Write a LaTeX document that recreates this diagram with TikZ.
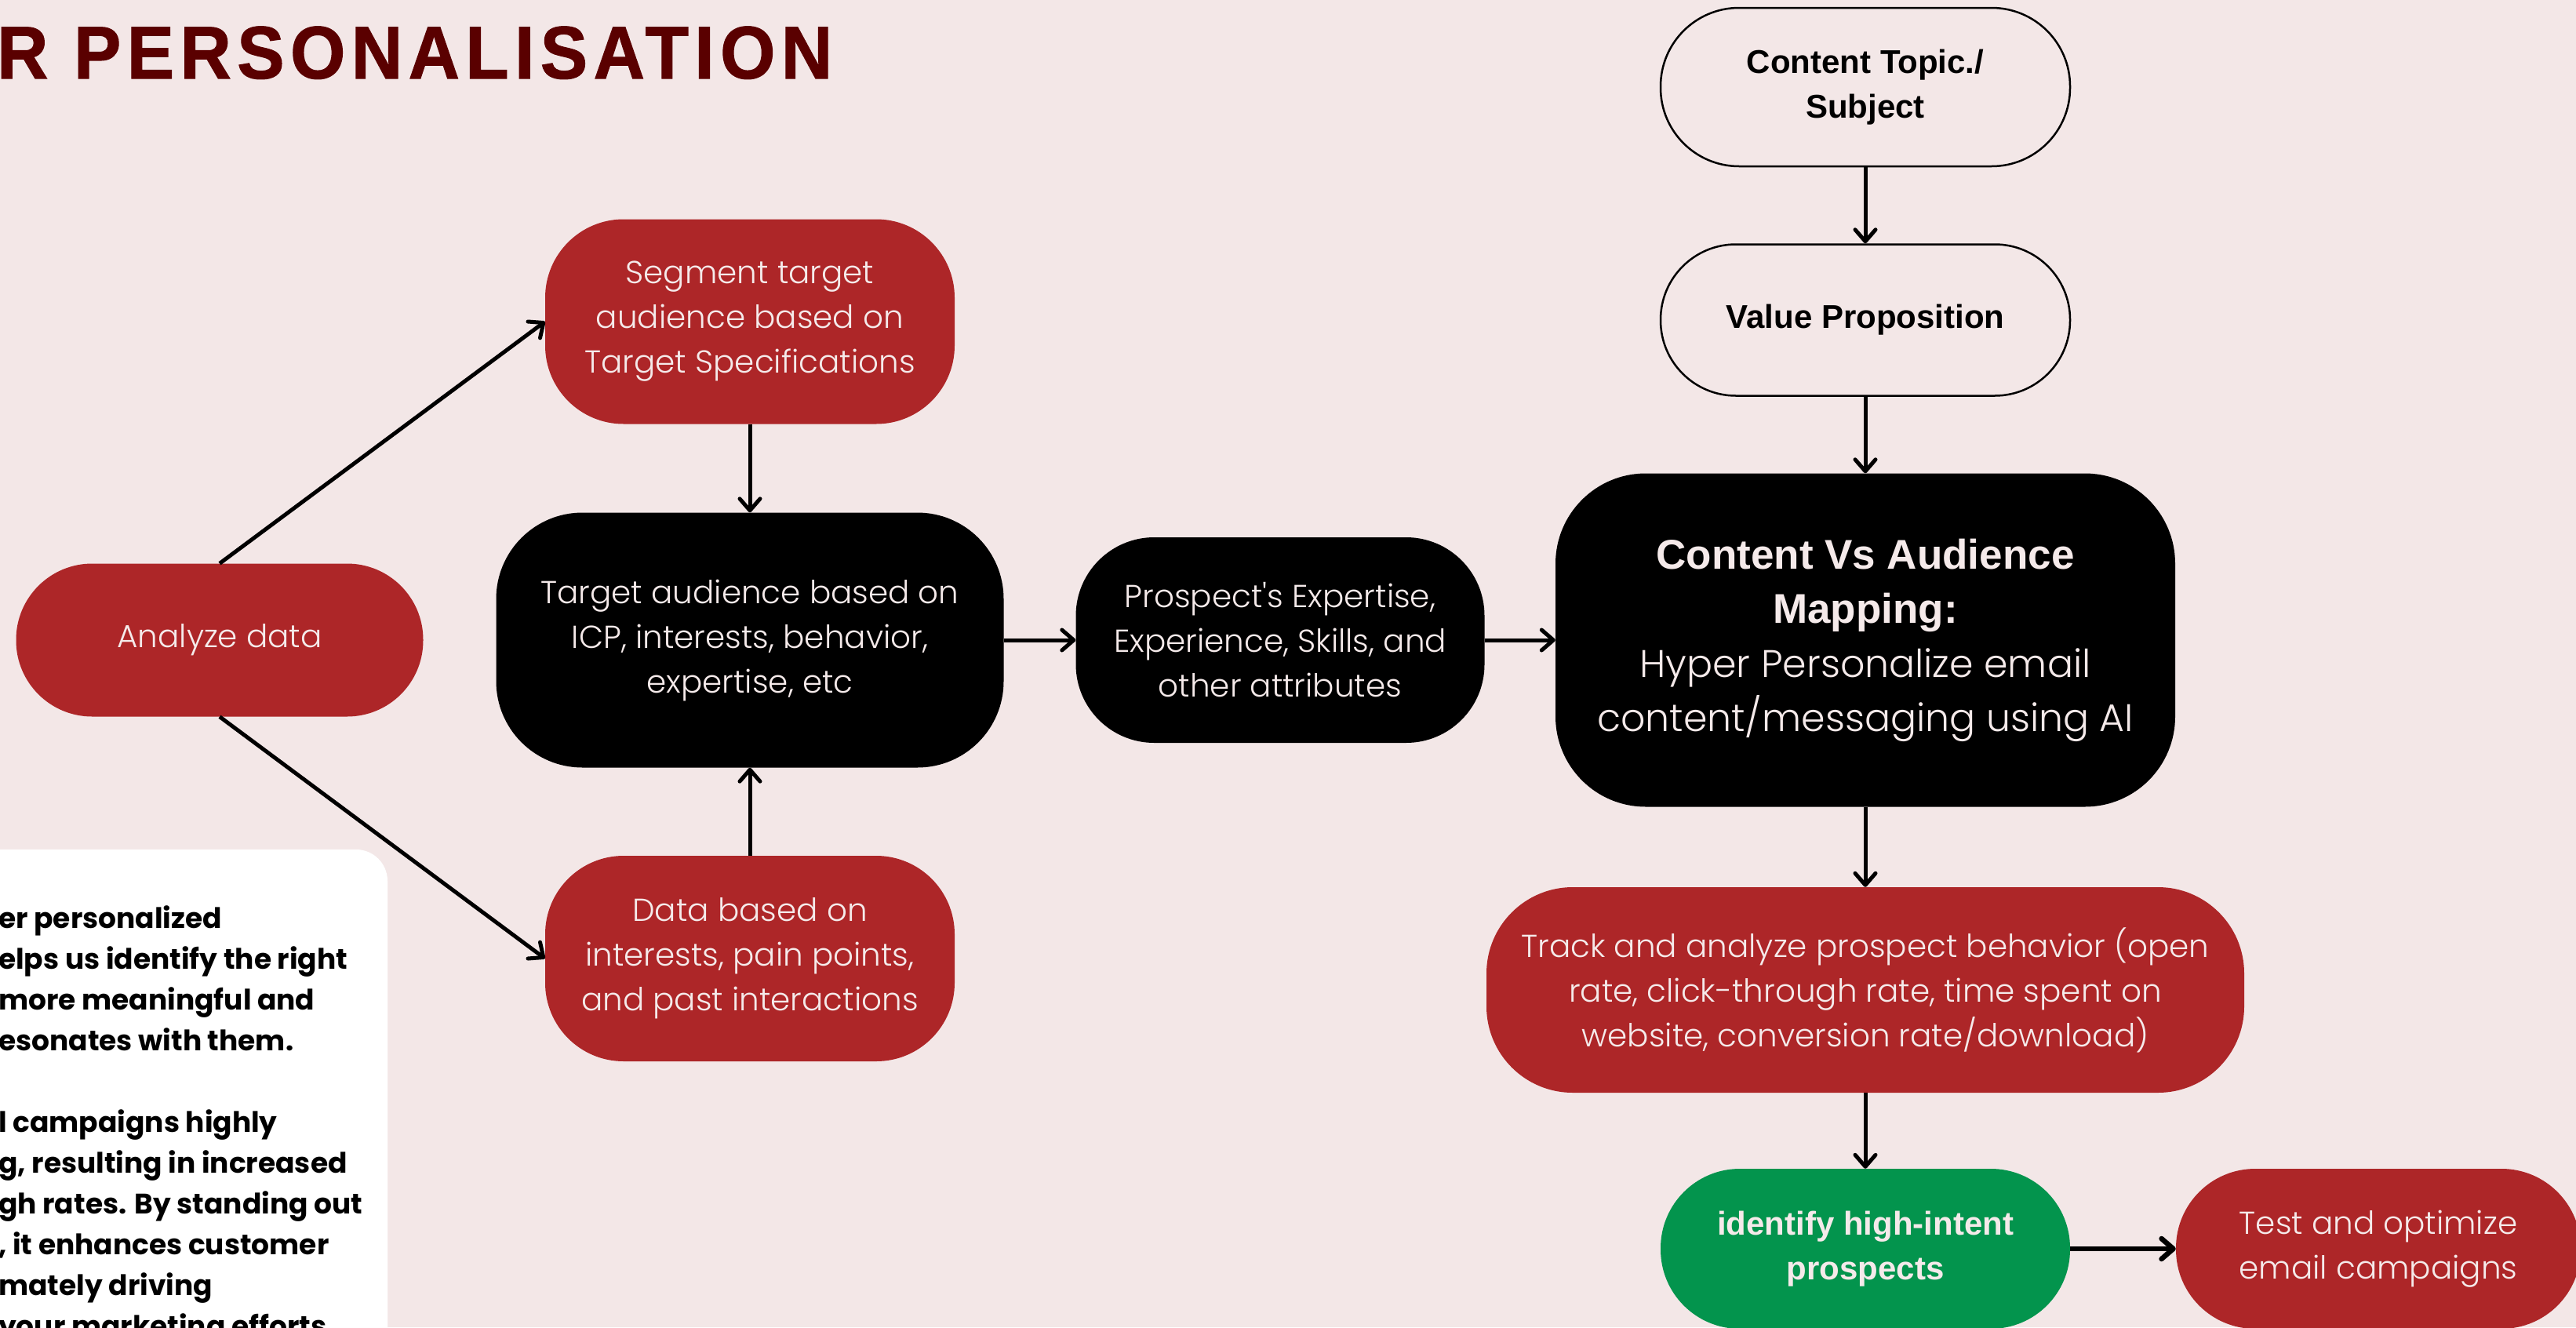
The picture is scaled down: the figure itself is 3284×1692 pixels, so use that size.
\documentclass[tikz,border=0pt]{standalone}
\usepackage{fontspec}
\setmainfont{Poppins}
\newfontfamily\lightf{Poppins Light}
\newfontfamily\boldf{Liberation Sans}
\newfontfamily\titlef[FakeStretch=0.95,LetterSpace=8,FakeBold=1.2]{Liberation Sans}
\usetikzlibrary{arrows.meta}
\definecolor{bg}{HTML}{F3E7E7}
\definecolor{cred}{HTML}{AD2628}
\definecolor{cgreen}{HTML}{03944D}
\definecolor{ctitle}{HTML}{5A0000}
\definecolor{ctext}{HTML}{F5EAEA}
\begin{document}
\begin{tikzpicture}[x=1pt,y=-1pt,
  box/.style={rectangle, inner sep=0pt, align=center, text=ctext},
  regtext/.style={font=\lightf\fontsize{40.5pt}{57pt}\selectfont},
  boldtext/.style={font=\boldf\bfseries\fontsize{42pt}{57pt}\selectfont},
  redbox/.style={box, fill=cred},
  blackbox/.style={box, fill=black},
  outbox/.style={box, draw=black, line width=2.5pt, text=black},
  greenbox/.style={box, fill=cgreen},
  arr/.style={draw=black, line width=5pt, -{Straight Barb[length=15pt,width=26pt,round]}},
  para/.style={anchor=base west, inner sep=0pt, text=black, font=\bfseries\fontsize{36pt}{52pt}\selectfont}
]
\useasboundingbox (0,0) rectangle (3284,1692);
\fill[bg] (0,0) rectangle (3284,1692);
\clip (0,0) rectangle (3284,1692);

% title
\node[anchor=base west, inner sep=0pt, text=ctitle, font=\titlef\bfseries\fontsize{95pt}{95pt}\selectfont] (title) at (-4,100) {R PERSONALISATION};

% white text panel
\fill[white, rounded corners=40pt] (-80,1083) rectangle (494,1800);
\node[para] (p1) at (-2,1183) {er personalized};
\node[para] (p2) at (-2,1235) {elps us identify the right};
\node[para] (p3) at (-2,1287) {more meaningful and};
\node[para] (p4) at (-2,1339) {esonates with them.};
\node[para] (p5) at (-2,1443) {l campaigns highly};
\node[para] (p6) at (-2,1495) {g, resulting in increased};
\node[para] (p7) at (-2,1547) {gh rates. By standing out};
\node[para] (p8) at (-2,1599) {, it enhances customer};
\node[para] (p9) at (-2,1651) {mately driving};
\node[para] (p10) at (-2,1703) {your marketing efforts};

% nodes
\node[redbox, regtext, rounded corners=97pt, minimum width=519pt, minimum height=195pt] (ana) at (280,816) {Analyze data};
\node[redbox, regtext, rounded corners=100pt, minimum width=522pt, minimum height=261pt] (seg) at (956,410) {Segment target\\audience based on\\Target Specifications};
\node[blackbox, regtext, rounded corners=110pt, minimum width=647pt, minimum height=325pt] (tgt) at (956,816) {Target audience based on\\ICP, interests, behavior,\\expertise, etc};
\node[redbox, regtext, rounded corners=100pt, minimum width=522pt, minimum height=262pt] (dat) at (956,1222) {Data based on\\interests, pain points,\\and past interactions};
\node[blackbox, regtext, rounded corners=100pt, minimum width=521pt, minimum height=262pt] (pro) at (1632,816) {Prospect's Expertise,\\Experience, Skills, and\\other attributes};
\node[blackbox, font=\lightf\fontsize{49pt}{69pt}\selectfont, rounded corners=115pt, minimum width=790pt, minimum height=425pt] (map) at (2378,816) {{\boldf\bfseries\fontsize{53pt}{69pt}\selectfont Content Vs Audience}\\{\boldf\bfseries\fontsize{53pt}{69pt}\selectfont Mapping:}\\Hyper Personalize email\\content/messaging using AI};
\node[outbox, boldtext, rounded corners=100pt, minimum width=522pt, minimum height=202pt] (top) at (2378,111) {Content Topic./\\Subject};
\node[outbox, boldtext, rounded corners=96pt, minimum width=522pt, minimum height=193pt] (val) at (2378,408) {Value Proposition};
\node[redbox, regtext, rounded corners=110pt, minimum width=966pt, minimum height=262pt] (trk) at (2378,1262) {Track and analyze prospect behavior (open\\rate, click-through rate, time spent on\\website, conversion rate/download)};
\node[greenbox, boldtext, rounded corners=101pt, minimum width=522pt, minimum height=204pt] (idf) at (2378,1592) {identify high-intent\\prospects};
\node[redbox, regtext, rounded corners=101pt, minimum width=516pt, minimum height=204pt] (tst) at (3032,1592) {Test and optimize\\email campaigns};

% connectors
\draw[arr] (ana.north) -- (seg.west);
\draw[arr] (ana.south) -- (dat.west);
\draw[arr] (seg.south) -- (tgt.north);
\draw[arr] (dat.north) -- (tgt.south);
\draw[arr] (tgt.east) -- (pro.west);
\draw[arr] (pro.east) -- (map.west);
\draw[arr] (top.south) -- (val.north);
\draw[arr] (val.south) -- (map.north);
\draw[arr] (map.south) -- (trk.north);
\draw[arr] (trk.south) -- (idf.north);
\draw[arr, line width=6.5pt] (idf.east) -- (tst.west);
\end{tikzpicture}
\end{document}
